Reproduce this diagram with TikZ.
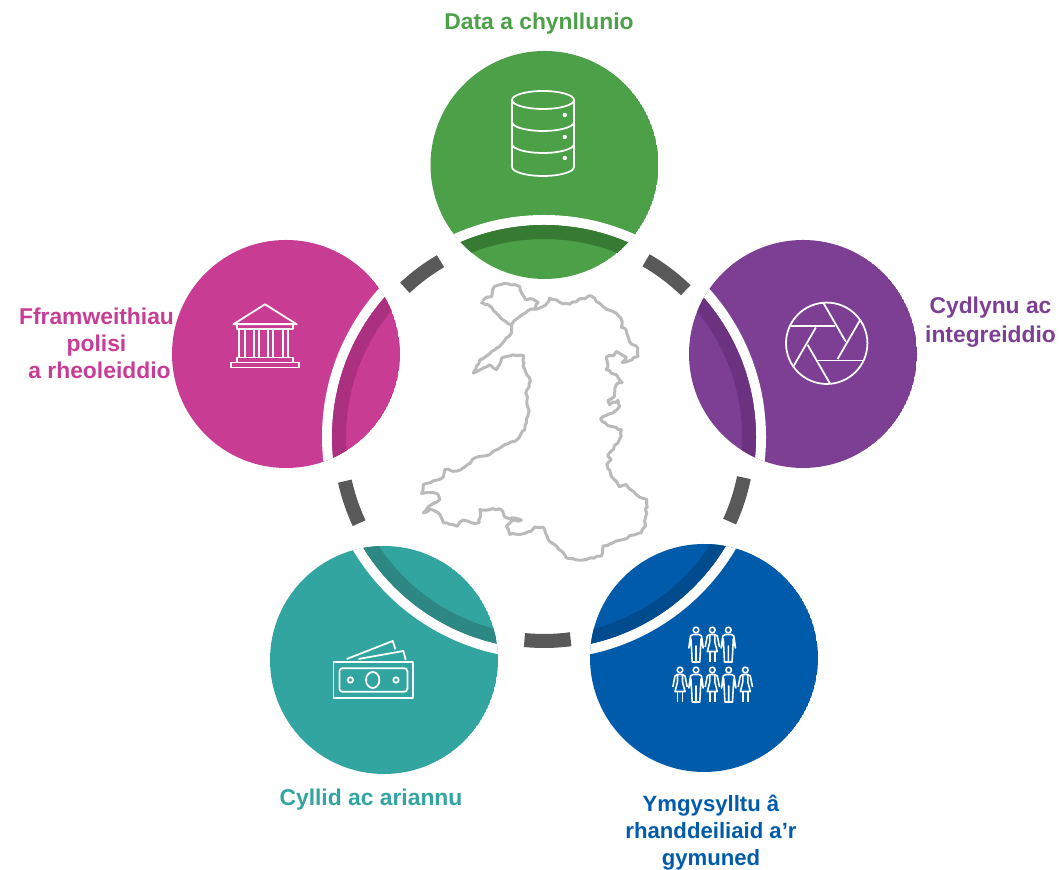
\documentclass[tikz,border=0pt]{standalone}
\usepackage{fontspec}
\setmainfont{Liberation Sans}
\usepackage{xcolor}
\usetikzlibrary{calc}
\usetikzlibrary{decorations.pathmorphing}
\definecolor{datagreen}{HTML}{4CA048}
\definecolor{datagreendark}{HTML}{377A34}
\definecolor{linkpurple}{HTML}{7D3F94}
\definecolor{linkpurpledark}{HTML}{6B3280}
\definecolor{policypink}{HTML}{C93C94}
\definecolor{policypinkdark}{HTML}{AC3080}
\definecolor{fundteal}{HTML}{32A5A0}
\definecolor{fundtealdark}{HTML}{2D8783}
\definecolor{peopleblue}{HTML}{005BAB}
\definecolor{peoplebluedark}{HTML}{004A8E}
\definecolor{ringgray}{HTML}{595959}
\definecolor{walesgray}{HTML}{BABABA}
\tikzset{
  ringseg/.style={ringgray, line width=0.14cm},
  icon/.style={white, line width=0.5pt, line join=round},
  thinicon/.style={white, line width=0.45pt, line join=round},
  coast/.style={walesgray, line width=0.85pt, line join=round, decorate, decoration={random steps, segment length=1pt, amplitude=0.3pt}},
  caption/.style={font=\fontsize{6.5}{7.7}\selectfont\bfseries, align=center, inner sep=0pt},
  manfig/.pic={
    \draw[thinicon] (0,0) circle (0.028);
    \draw[thinicon] (-0.03,-0.045) -- (-0.055,-0.06) -- (-0.072,-0.18) -- (-0.05,-0.09) -- (-0.038,-0.32) -- (0,-0.32) -- (0,-0.16) -- (0,-0.32) -- (0.038,-0.32) -- (0.05,-0.09) -- (0.072,-0.18) -- (0.055,-0.06) -- (0.03,-0.045) -- cycle;
  },
  womanfig/.pic={
    \draw[thinicon] (0,0) circle (0.028);
    \draw[thinicon] (-0.025,-0.045) -- (-0.025,-0.12) -- (-0.05,-0.215) -- (0.05,-0.215) -- (0.025,-0.12) -- (0.025,-0.045) -- cycle;
    \draw[thinicon] (-0.025,-0.045) -- (-0.05,-0.06) -- (-0.072,-0.17);
    \draw[thinicon] (0.025,-0.045) -- (0.05,-0.06) -- (0.072,-0.17);
    \draw[thinicon] (-0.025,-0.215) -- (-0.025,-0.32);
    \draw[thinicon] (0.025,-0.215) -- (0.025,-0.32);
  }
}

\begin{document}
\begin{tikzpicture}

\useasboundingbox (0,0) rectangle (10.6,8.7);
\coordinate (ring) at (5.44,4.33);

% Draw the ring pieces
\foreach \a/\b in {120.5/133,192.5/205,264.5/277.5,335.5/348.5,46/60}
{
  \draw[ringseg] ($(ring)+(\a:2.04)$) arc (\a:\b:2.04);
}

% Draw the discs
\foreach \cx/\cy/\base/\shade in {5.445/7.05/datagreen/datagreendark,8.03/5.16/linkpurple/linkpurpledark,2.86/5.16/policypink/policypinkdark,3.84/2.10/fundteal/fundtealdark,7.04/2.12/peopleblue/peoplebluedark}
{
  \begin{scope}
    \clip (\cx,\cy) circle (1.14);
    \fill[\base] (\cx,\cy) circle (1.14);
    \draw[white, line width=0.10cm] (ring) circle (2.17);
    \draw[\shade, line width=0.14cm] (ring) circle (2.05);
  \end{scope}
}

% Draw the outline of Wales
\begin{scope}[shift={(4,6)}, x=0.003333cm, y=-0.003333cm]
  \draw[coast]
    (248,92) -- (262,82) -- (276,80) -- (283,50) -- (315,40) -- (335,45) -- (360,50) -- (366,70) -- (378,90) -- (400,88) -- (415,98) -- (405,118) -- (385,122) -- (360,140) -- (335,165) -- (318,155) -- (305,147) -- (290,130) -- (275,112) -- (250,100) -- cycle;
  \draw[coast]
    (405,118) -- (440,102) -- (450,85) -- (470,90) -- (490,102) -- (510,103) -- (535,90) -- (575,78) -- (590,95) -- (620,118) -- (650,130) -- (668,155) -- (665,172) -- (680,180) -- (690,215) -- (715,235) -- (715,260) -- (690,272) -- (668,278) -- (680,262) -- (650,245) -- (640,258) -- (620,262) -- (625,290) -- (620,300) -- (650,315) -- (668,338) -- (650,345) -- (645,380) -- (625,392) -- (630,405) -- (655,392) -- (660,410) -- (640,430) -- (603,448) -- (625,468) -- (665,480) -- (665,500) -- (655,520) -- (635,545) -- (625,560) -- (635,570) -- (622,585) -- (635,620) -- (660,652) -- (680,645) -- (710,675) -- (742,690) -- (738,770) -- (725,790) -- (650,815) -- (610,830) -- (605,860) -- (550,872) -- (500,865) -- (470,830) -- (445,810) -- (430,773) -- (405,773) -- (395,785) -- (360,795) -- (330,795) -- (320,770) -- (335,755) -- (365,752) -- (340,745) -- (320,745) -- (300,718) -- (240,720) -- (238,760) -- (215,760) -- (190,752) -- (170,770) -- (130,760) -- (115,730) -- (90,720) -- (70,730) -- (85,712) -- (120,690) -- (110,672) -- (65,672) -- (70,645) -- (130,622) -- (135,600) -- (170,605) -- (195,592) -- (225,565) -- (270,555) -- (315,525) -- (350,512) -- (375,480) -- (388,425) -- (378,370) -- (392,335) -- (370,290) -- (372,258) -- (340,255) -- (305,265) -- (290,300) -- (270,285) -- (220,310) -- (240,270) -- (290,235) -- (335,190) -- (335,165);
\end{scope}

% Draw the database
\begin{scope}[shift={(5.43,7.37)}]
  \draw[icon] (0,0.33) ellipse (0.31 and 0.09);
  \draw[icon] (-0.31,0.33) -- (-0.31,-0.34) arc (180:360:0.31 and 0.09) -- (0.31,0.33);
  \draw[icon] (-0.31,0.11) arc (180:360:0.31 and 0.09);
  \draw[icon] (-0.31,-0.11) arc (180:360:0.31 and 0.09);
  \foreach \dy in {0.18,-0.04,-0.25}
  {
    \fill[white] (0.218,\dy) circle (0.022);
  }
\end{scope}

% Draw the aperture
\begin{scope}[shift={(8.267,5.267)}]
  \draw[icon] (0,0) circle (0.407);
  \foreach \i in {0,...,5}
  {
    \draw[icon, rotate=\i*60] (-0.367,0.173) -- (0.083,0.173);
  }
\end{scope}

% Draw the temple
\begin{scope}[shift={(2.65,5.317)}]
  \draw[icon] (-0.317,0.14) -- (0,0.34) -- (0.317,0.14) -- cycle;
  \draw[icon] (-0.277,0.14) rectangle (0.277,0.09);
  \foreach \cx in {-0.257,-0.2,-0.11,-0.057,0.033,0.083,0.183,0.233}
  {
    \draw[icon] (\cx,0.09) -- (\cx,-0.193);
  }
  \draw[icon] (-0.283,-0.193) rectangle (0.283,-0.243);
  \draw[icon] (-0.34,-0.243) rectangle (0.34,-0.293);
\end{scope}

% Draw the banknotes
\begin{scope}[shift={(3.727,1.9)}]
  \draw[icon] (-0.393,0.183) rectangle (0.4,-0.177);
  \draw[icon, rounded corners=0.03cm] (-0.333,0.117) rectangle (0.347,-0.117);
  \draw[icon] (0,0) ellipse (0.067 and 0.08);
  \draw[icon] (-0.223,0) circle (0.027);
  \draw[icon] (0.233,0) circle (0.027);
  \draw[icon] (-0.26,0.21) -- (0.2,0.39) -- (0.227,0.307);
  \draw[icon] (-0.143,0.21) -- (0.307,0.29) -- (0.33,0.2);
\end{scope}

% Draw the people
\foreach \px in {6.96,7.283}
{
  \pic at (\px,2.4) {manfig};
}
\pic at (7.123,2.4) {womanfig};
\foreach \px in {6.96,7.287}
{
  \pic at (\px,2.0) {manfig};
}
\foreach \px in {6.8,7.123,7.453}
{
  \pic at (\px,2.0) {womanfig};
}

% Labels
\node[caption, text=datagreen] (datalabel) at (5.39,8.46) {Data a chynllunio};
\node[caption, text=linkpurple] (linklabel) at (9.905,5.48) {Cydlynu ac\\[0.7pt]integreiddio};
\node[caption, text=policypink] (policylabel) at (0.965,5.27) {Fframweithiau\\polisi\\\hspace*{0.06cm}a rheoleiddio};
\node[caption, text=fundteal] (fundlabel) at (3.71,0.7) {Cyllid ac ariannu};
\node[caption, font=\fontsize{6.3}{7.7}\selectfont\bfseries, text=peopleblue] (peoplelabel) at (7.11,0.37) {Ymgysylltu â\\rhanddeiliaid a’r\\gymuned};

\end{tikzpicture}
\end{document}
